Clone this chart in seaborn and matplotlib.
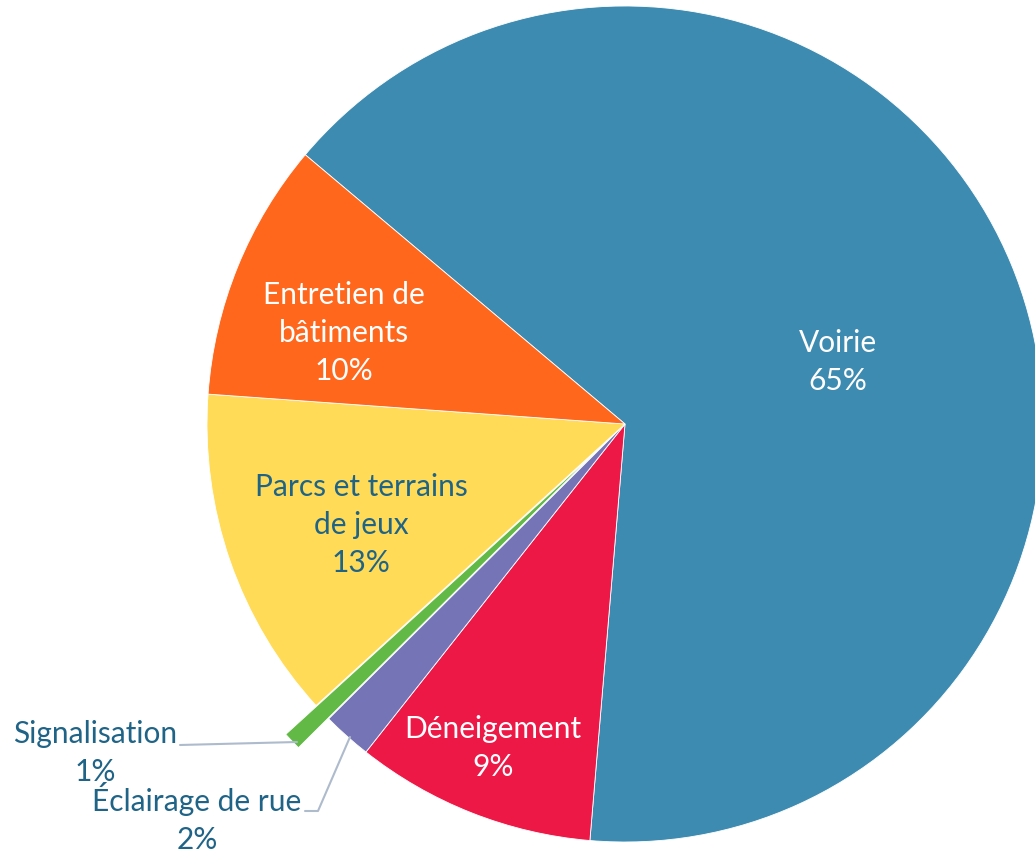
import matplotlib
matplotlib.use('Agg')
import matplotlib.pyplot as plt
import seaborn as sns

# data (clockwise from the top-left)
categories = ['Voirie', 'Déneigement', 'Éclairage de rue', 'Signalisation',
              'Parcs et terrains de jeux', 'Entretien de bâtiments']
label_text = ['Voirie', 'Déneigement', 'Éclairage de rue', 'Signalisation',
              'Parcs et terrains\nde jeux', 'Entretien de\nbâtiments']
values = [65.2, 9.3, 1.9, 0.7, 12.9, 10.0]
colors = ['#3E8BB1', '#EE1846', '#7474B6', '#62B946', '#FFDB57', '#FF671C']
explode = [0, 0, 0, 0.1, 0, 0]

sns.set_theme(style='white')
plt.rcParams['font.family'] = ['Lato', 'DejaVu Sans']

W, H = 1035, 857
CX, CY, R = 625, 424, 418


def px(x, y):
    # pixel position in the picture -> data units of the pie
    return (x - CX) / R, (CY - y) / R


fig = plt.figure(figsize=(W / 100, H / 100), dpi=100)
ax = fig.add_axes([0, 0, 1, 1])
ax.pie(values, colors=colors, explode=explode, startangle=139.9,
       counterclock=False, radius=1,
       wedgeprops=dict(edgecolor='white', linewidth=0.6))

total = sum(values)
pct = [f'{v / total * 100:.0f}%' for v in values]

blue_txt = '#1F6487'
# label placement (pixels) and colour
places = {
    'Voirie': ((838, 362), 'white'),
    'Déneigement': ((493, 748), 'white'),
    'Éclairage de rue': ((197, 818), blue_txt),
    'Signalisation': ((95, 753), blue_txt),
    'Parcs et terrains de jeux': ((361, 525), blue_txt),
    'Entretien de bâtiments': ((344, 333), 'white'),
}
for cat, txt, p in zip(categories, label_text, pct):
    (x, y), c = places[cat]
    ax.text(*px(x, y), f'{txt}\n{p}', ha='center', va='center',
            color=c, fontsize=21.5, linespacing=1.42)

# leader lines for the small slices
line_c = '#AEBBCD'
sig = [px(180, 745), px(297, 742)]
ax.plot([a for a, b in sig], [b for a, b in sig], color=line_c, lw=1.5)
ecl = [px(305, 811), px(318, 811), px(350, 737)]
ax.plot([a for a, b in ecl], [b for a, b in ecl], color=line_c, lw=1.5)

ax.set_xlim(px(0, 0)[0], px(W, 0)[0])
ax.set_ylim(px(0, H)[1], px(0, 0)[1])
ax.set_aspect('auto')
ax.axis('off')

fig.savefig('out.png', dpi=100, facecolor='white')
